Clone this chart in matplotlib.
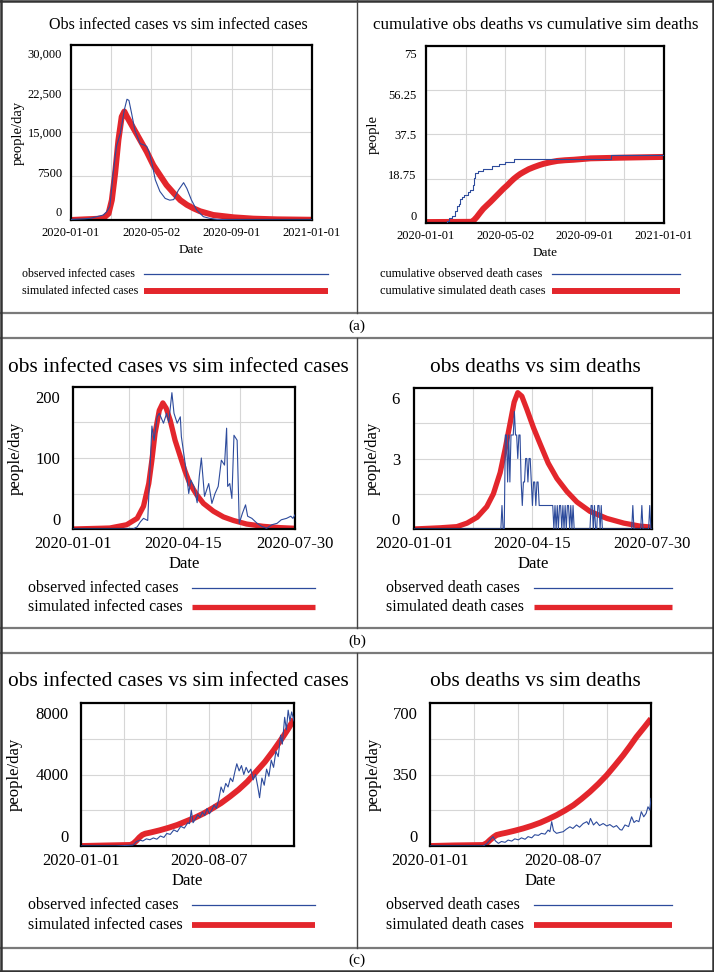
import pandas as pd
import matplotlib
matplotlib.use('Agg')
import matplotlib.pyplot as plt
from matplotlib.lines import Line2D
from matplotlib.transforms import ScaledTranslation
import matplotlib.dates as mdates

plt.rcParams['font.family'] = ['Liberation Serif', 'DejaVu Serif']

W, H = 714, 972
START = pd.Timestamp('2020-01-01')
BLUE = '#2d4b9c'
RED = '#e3262c'

# ---------------- (a) ----------------
a_inf_obs_day = [0, 10, 20, 30, 39, 44, 49, 54, 59, 64, 69, 75, 81, 85, 88, 92, 97, 105, 110, 115,
                 119, 123, 128, 135, 143, 150, 156, 163, 171, 176, 183, 191, 201, 210, 222, 240, 280, 320, 366]
a_inf_obs = [100, 150, 200, 300, 570, 700, 850, 1400, 2300, 8000, 12600, 14900, 18900, 20700, 20500, 18300,
             15400, 13100, 12900, 12600, 11500, 9700, 6900, 4900, 3700, 3400, 3500, 5100, 6400, 5400,
             3400, 1700, 570, 300, 100, 50, 30, 20, 20]
a_inf_sim_day = [0, 19, 40, 49, 57, 62, 67, 72, 77, 81, 85, 95, 105, 115, 125, 135, 145, 156, 166, 176,
                 186, 196, 216, 247, 277, 313, 366]
a_inf_sim = [0, 100, 200, 300, 1100, 3400, 8000, 13700, 17700, 18600, 17700, 15700, 13700, 11700, 9400,
             7700, 6000, 4600, 3400, 2600, 2000, 1500, 860, 460, 230, 110, 40]

a_dth_obs_day = [0, 32, 36, 40, 44, 47, 50, 53, 56, 59, 62, 65, 68, 72, 74, 76, 80, 88, 102, 112, 122, 135, 284, 366]
a_dth_obs = [0, 1, 2, 3, 5, 7, 8, 10, 11, 12, 12, 13, 14, 16, 19, 21, 22, 23, 24, 25, 26, 27, 29, 29]
a_dth_sim_day = [0, 70, 74, 78, 83, 88, 94, 99, 104, 109, 114, 119, 125, 130, 135, 140, 145, 150, 158, 166,
                 174, 181, 192, 202, 214, 227, 253, 304, 366]
a_dth_sim = [0.4, 0.5, 1.3, 2.5, 4.3, 6, 7.6, 8.9, 10.3, 11.7, 13.1, 14.5, 16, 17.4, 18.7, 19.8, 20.8, 21.6,
             22.8, 23.7, 24.5, 25.1, 25.8, 26.3, 26.6, 26.8, 27.4, 27.7, 28]

a_xticks = ['2020-01-01', '2020-05-02', '2020-09-01', '2021-01-01']

# ---------------- (b) ----------------
b_inf_obs_day = [0, 57, 61, 64, 67, 71, 75, 77, 80, 82, 86, 89, 91, 94, 96, 99, 102, 103, 107, 110,
                 112, 115, 118, 120, 122, 125, 129, 132, 135, 138, 141, 144, 146, 147, 149, 151, 153, 156, 158, 161,
                 164, 166, 170, 175, 179, 184, 189, 194, 198, 203, 207, 209, 211]
b_inf_obs = [0, 0, 3, 10, 15, 12, 145, 125, 158, 163, 149, 163, 150, 192, 163, 149, 158, 130, 88, 50,
             69, 60, 37, 74, 100, 46, 64, 36, 50, 60, 97, 90, 142, 60, 64, 43, 132, 125, 8, 22,
             34, 18, 15, 8, 4, 1, 6, 8, 13, 15, 18, 15, 20]
b_inf_sim_day = [0, 26, 35, 51, 61, 67, 72, 75, 78, 82, 85.4, 88.6, 92.4, 97, 102, 106.6, 111, 117.7,
                 124, 133.5, 143, 152.5, 165, 181, 197, 211]
b_inf_sim = [0, 1, 1.4, 6, 15, 32, 64, 97, 135, 167, 177.6, 170, 153, 125, 102, 81, 64, 48, 36, 25, 17,
             12, 7, 3.7, 1.9, 1]

b_dth_obs_day = [0, 77, 78, 79, 80, 81, 82, 83, 84, 85, 86, 88, 89, 90, 91, 92, 93, 94, 95, 96, 97, 98, 99,
                 100, 101, 102, 103, 104, 105, 106, 107, 108, 109, 110, 111, 123, 124, 125, 126, 127, 128,
                 129, 130, 131, 132, 133, 134, 135, 136, 137, 138, 139, 140, 141, 142, 156, 157, 158, 159,
                 160, 161, 162, 163, 164, 165, 166, 167, 193, 194, 195, 201, 202, 203, 208, 209, 210, 211]
b_dth_obs = [0, 0, 1, 0, 0, 4, 4, 2, 4, 2, 4, 4, 5, 4, 4, 3, 4, 4, 2, 1, 2, 2, 3,
             3, 2, 3, 3, 2, 1, 2, 2, 1, 2, 2, 1, 1, 0, 1, 0, 1, 0,
             1, 1, 0, 1, 0, 1, 0, 1, 1, 0, 1, 0, 1, 0, 0, 1, 1, 0,
             1, 0, 0, 1, 1, 0, 1, 0, 0, 1, 0, 0, 1, 0, 0, 1, 0, 0]
b_dth_sim_day = [0, 23, 38, 47, 56, 64.5, 70.4, 76.4, 80.8, 85.2, 88.8, 92, 95.6, 100, 106, 112, 119,
                 126.7, 135.5, 144.4, 156, 171, 186, 200.6, 211]
b_dth_sim = [0, 0.05, 0.1, 0.25, 0.5, 0.95, 1.5, 2.4, 3.4, 4.5, 5.4, 5.8, 5.65, 5.1, 4.3, 3.6, 2.8,
             2.15, 1.6, 1.15, 0.75, 0.45, 0.25, 0.12, 0.08]

b_xticks = ['2020-01-01', '2020-04-15', '2020-07-30']

# ---------------- (c) ----------------
c_inf_obs_day = [0, 60, 89, 95, 101, 106, 112, 118, 124, 130, 136, 142, 147, 153, 159, 165, 171, 177, 183, 186,
                 189, 192, 196, 200, 204, 208, 212, 216, 220, 224, 228, 232, 236, 240, 244, 248, 252, 256, 260, 264,
                 267, 271, 275, 279, 283, 287, 291, 295, 299, 303, 306, 310, 314, 318, 322, 326, 330, 334, 338, 342,
                 345, 349, 352, 355, 358, 361, 365]
c_inf_obs = [0, 0, 50, 250, 330, 280, 400, 350, 450, 380, 560, 480, 700, 650, 900, 800, 1100, 1000, 1300, 1250,
             2000, 1300, 1500, 1750, 1600, 1900, 1700, 2100, 1800, 2000, 2300, 2100, 2600, 3300, 3000, 3500, 3300,
             3800, 3600, 4200, 4600, 4200, 4500, 4000, 4400, 4100, 4300, 3700, 4000, 3300, 2700, 3800, 3400, 4300,
             3900, 4800, 4400, 5300, 5000, 6200, 5700, 7200, 6500, 7600, 7000, 7500, 7000]
c_inf_sim_day = [0, 40, 85, 90, 95, 100, 105, 110, 120, 135, 150, 165, 180, 195, 210, 225, 240, 255, 270,
                 285, 300, 315, 330, 345, 355, 365]
c_inf_sim = [0, 30, 60, 150, 300, 480, 620, 690, 760, 880, 1020, 1180, 1380, 1580, 1820, 2100, 2400, 2760,
             3150, 3600, 4150, 4700, 5350, 6050, 6550, 7100]

c_dth_obs_day = [0, 88, 94, 99, 104, 108, 113, 118, 124, 129, 135, 140, 146, 151, 157, 162, 168, 173, 179, 184,
                 190, 195, 198, 201, 204, 209, 214, 220, 225, 231, 236, 242, 247, 253, 259, 262, 265, 270, 275, 280,
                 286, 292, 297, 303, 308, 314, 317, 322, 328, 333, 337, 341, 345, 349, 353, 357, 360, 363, 365]
c_dth_obs = [0, 0, 12, 29, 46, 25, 13, 22, 18, 29, 24, 35, 30, 40, 33, 46, 40, 55, 52, 62,
             58, 78, 70, 119, 75, 62, 66, 70, 82, 94, 86, 103, 92, 110, 119, 105, 135, 103, 118, 100,
             110, 98, 105, 92, 100, 80, 78, 103, 95, 143, 115, 125, 119, 168, 143, 160, 192, 176, 233]
c_dth_sim_day = [0, 40, 88, 94, 99, 105, 110, 118, 126, 140, 154, 168, 182, 195, 209, 223, 237, 250, 264,
                 278, 292, 305, 319, 330, 341, 353, 365]
c_dth_sim = [0, 3, 5, 15, 29, 44, 54, 60, 65, 75, 86, 99, 114, 131, 151, 174, 200, 230, 265, 304, 347, 393,
             444, 488, 534, 578, 623]

c_xticks = ['2020-01-01', '2020-08-07']


def to_dates(days):
    return START + pd.to_timedelta(days, unit='D')


fig = plt.figure(figsize=(W / 100, H / 100), dpi=100)


def px_box(l, r, t, b):
    return [l / W, 1 - b / H, (r - l) / W, (b - t) / H]


def panel(box, obs, sim, xticks, xminor_days, xmax_day, yticks, ylabels, yminor, ylabel, ylab_x,
          tick_fs, lab_fs, red_lw, shift_px, ypad, steps=False, xlabelpad=0, ylab_fs=None):
    ax = fig.add_axes(px_box(*box))
    ax.plot(to_dates(sim[0]), sim[1], color=RED, lw=red_lw, solid_capstyle='butt', zorder=2)
    ax.plot(to_dates(obs[0]), obs[1], color=BLUE, lw=0.8, zorder=3,
            drawstyle='steps-post' if steps else 'default')
    ax.set_xlim(START, to_dates([xmax_day])[0])
    ax.set_xticks(pd.to_datetime(xticks))
    ax.set_xticks(to_dates(xminor_days), minor=True)
    ax.xaxis.set_major_formatter(mdates.DateFormatter('%Y-%m-%d'))
    ax.set_ylim(yticks[0], yticks[-1])
    ax.set_yticks(yticks)
    ax.set_yticklabels(ylabels)
    ax.set_yticks(yminor, minor=True)
    ax.tick_params(which='both', length=0, labelsize=tick_fs)
    ax.tick_params(axis='x', pad=5)
    ax.tick_params(axis='y', pad=ypad)
    ax.grid(which='both', color='#d6d6d6', lw=0.8)
    ax.set_axisbelow(True)
    for s in ax.spines.values():
        s.set_linewidth(1.6)
        s.set_color('black')
    ax.set_xlabel('Date', fontsize=lab_fs, labelpad=xlabelpad)
    ax.set_ylabel(ylabel, fontsize=ylab_fs or lab_fs, va='center')
    ax.yaxis.set_label_coords(ylab_x, 0.5)
    # Vensim-style: end labels pulled inside the frame
    labs = ax.get_yticklabels()
    n = len(labs)
    for i, lab in enumerate(labs):
        dy = shift_px * (1 - 2 * i / (n - 1)) / 100
        lab.set_transform(lab.get_transform() + ScaledTranslation(0, dy, fig.dpi_scale_trans))
    return ax


def legend(xt, x0, x1, y0, y1, labels, fs, red_lw):
    fig.text(xt / W, 1 - y0 / H, labels[0], fontsize=fs, ha='left', va='center')
    fig.text(xt / W, 1 - y1 / H, labels[1], fontsize=fs, ha='left', va='center')
    fig.add_artist(Line2D([x0 / W, x1 / W], [1 - y0 / H] * 2, color=BLUE, lw=0.9))
    fig.add_artist(Line2D([x0 / W, x1 / W], [1 - y1 / H] * 2, color=RED, lw=red_lw, solid_capstyle='butt'))


# (a)
fig.text(178.5 / W, 1 - 25 / H, 'Obs infected cases vs sim infected cases', fontsize=11.6, ha='center', va='center')
panel((71, 312, 45, 220), (a_inf_obs_day, a_inf_obs), (a_inf_sim_day, a_inf_sim), a_xticks, [61, 183, 305], 366,
      [0, 7500, 15000, 22500, 30000], ['0', '7500', '15,000', '22,500', '30,000'], [], 'people/day', -0.22,
      9, 9.5, 4.3, 8, 6.5, xlabelpad=3.5, ylab_fs=10.5)
legend(22, 144, 328, 274, 291, ['observed infected cases', 'simulated infected cases'], 8.6, 4.3)

fig.text(535.5 / W, 1 - 25 / H, 'cumulative obs deaths vs cumulative sim deaths', fontsize=12.2, ha='center', va='center')
panel((426, 664, 46, 223), (a_dth_obs_day, a_dth_obs), (a_dth_sim_day, a_dth_sim), a_xticks, [61, 183, 305], 366,
      [0, 18.75, 37.5, 56.25, 75], ['0', '18.75', '37.5', '56.25', '75'], [], 'people', -0.22,
      9, 9.5, 4.3, 8, 7, steps=True, xlabelpad=3.5, ylab_fs=10.5)
legend(380, 552, 680, 274, 291, ['cumulative observed death cases', 'cumulative simulated death cases'], 8.9, 4.3)

# (b)
fig.text(178.5 / W, 1 - 367 / H, 'obs infected cases vs sim infected cases', fontsize=15.4, ha='center', va='center')
panel((73, 295, 387, 529), (b_inf_obs_day, b_inf_obs), (b_inf_sim_day, b_inf_sim), b_xticks, [52.75, 158.25], 211,
      [0, 100, 200], ['0', '100', '200'], [50, 150], 'people/day', -0.26,
      12, 12, 3.8, 10, 9, xlabelpad=3)
legend(28, 192, 315, 588, 607, ['observed infected cases', 'simulated infected cases'], 11.4, 3.8)

fig.text(535.5 / W, 1 - 367 / H, 'obs deaths vs sim deaths', fontsize=15.4, ha='center', va='center')
panel((414, 652, 388, 529), (b_dth_obs_day, b_dth_obs), (b_dth_sim_day, b_dth_sim), b_xticks, [52.75, 158.25], 211,
      [0, 3, 6], ['0', '3', '6'], [1.5, 4.5], 'people/day', -0.175,
      12, 12, 3.8, 10, 10, xlabelpad=3)
legend(386, 534, 672, 588, 607, ['observed death cases', 'simulated death cases'], 11.4, 3.8)

# (c)
fig.text(178.5 / W, 1 - 682 / H, 'obs infected cases vs sim infected cases', fontsize=15.4, ha='center', va='center')
panel((81, 294, 703, 846), (c_inf_obs_day, c_inf_obs), (c_inf_sim_day, c_inf_sim), c_xticks, [73, 146, 292], 365,
      [0, 4000, 8000], ['0', '4000', '8000'], [2000, 6000], 'people/day', -0.31,
      12, 12, 4.2, 10, 9, xlabelpad=3)
legend(28, 192, 315, 905, 925, ['observed infected cases', 'simulated infected cases'], 11.4, 4.2)

fig.text(535.5 / W, 1 - 682 / H, 'obs deaths vs sim deaths', fontsize=15.4, ha='center', va='center')
panel((430, 651, 703, 846), (c_dth_obs_day, c_dth_obs), (c_dth_sim_day, c_dth_sim), c_xticks, [73, 146, 292], 365,
      [0, 350, 700], ['0', '350', '700'], [175, 525], 'people/day', -0.255,
      12, 12, 4.2, 10, 9, xlabelpad=3)
legend(386, 534, 672, 905, 925, ['observed death cases', 'simulated death cases'], 11.4, 4.2)


# table frame and captions
def hline(y, color='#7a7a7a', lw=1.6):
    fig.add_artist(Line2D([0, 1], [1 - y / H] * 2, color=color, lw=lw))


def vline(x, y0, y1, color='#444444', lw=1.0):
    fig.add_artist(Line2D([x / W] * 2, [1 - y0 / H, 1 - y1 / H], color=color, lw=lw))


for y in [313, 338, 628, 653, 948]:
    hline(y)
hline(1, color='#333333', lw=1.8)
hline(971, color='#333333', lw=1.8)
vline(1, 0, H, color='#333333', lw=1.8)
vline(713, 0, H, color='#333333', lw=1.8)
for y0, y1 in [(0, 313), (338, 628), (653, 948)]:
    vline(357, y0, y1)

for y, cap in [(326, '(a)'), (641, '(b)'), (960, '(c)')]:
    fig.text(357 / W, 1 - y / H, cap, fontsize=11, ha='center', va='center')

fig.savefig('out.png', dpi=100)
